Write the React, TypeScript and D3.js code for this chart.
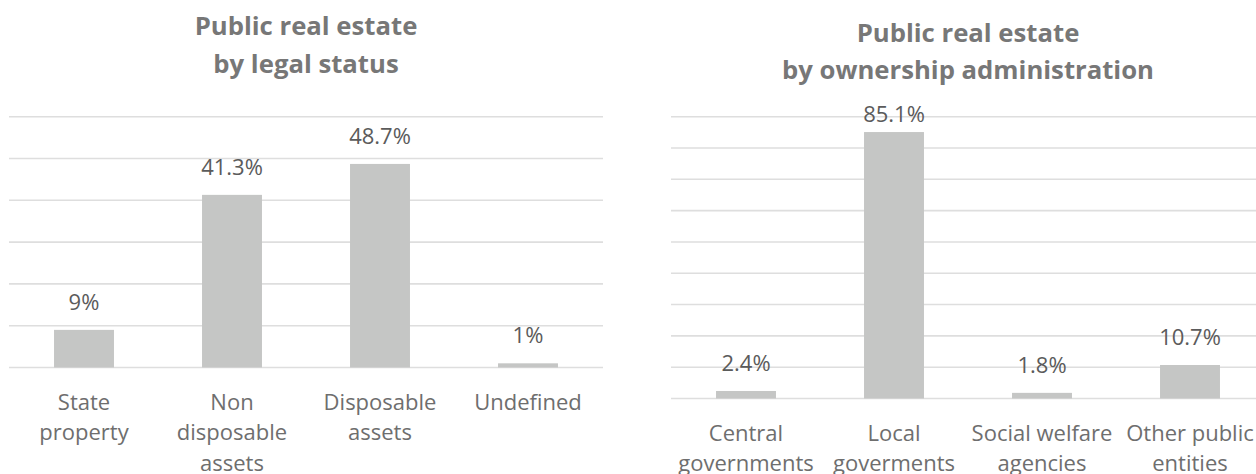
import React from "react";
import * as d3 from "d3";

const leftTitle = ["Public real estate", "by legal status"];
const leftCategories = ["State property", "Non disposable assets", "Disposable assets", "Undefined"];
const leftLabelLines = [["State", "property"], ["Non", "disposable", "assets"], ["Disposable", "assets"], ["Undefined"]];
const leftValues = [9, 41.3, 48.7, 1];
const leftValueLabels = ["9%", "41.3%", "48.7%", "1%"];
const leftTicks = [0, 10, 20, 30, 40, 50, 60];

const rightTitle = ["Public real estate", "by ownership administration"];
const rightCategories = ["Central governments", "Local goverments", "Social welfare agencies", "Other public entities"];
const rightLabelLines = [["Central", "governments"], ["Local", "goverments"], ["Social welfare", "agencies"], ["Other public", "entities"]];
const rightValues = [2.4, 85.1, 1.8, 10.7];
const rightValueLabels = ["2.4%", "85.1%", "1.8%", "10.7%"];
const rightTicks = [0, 10, 20, 30, 40, 50, 60, 70, 80, 90];

const FONT = "'Open Sans', 'Noto Sans', sans-serif";
const BAR = "#c5c6c5";
const GRID = "#dedede";

type PanelProps = {
  title: string[];
  categories: string[];
  lines: string[][];
  values: number[];
  labels: string[];
  ticks: number[];
  x0: number;
  x1: number;
  yTop: number;
  yBase: number;
  titleY: number;
  labelMinY: number;
};

function Panel(p: PanelProps) {
  const x = d3
    .scaleBand<string>()
    .domain(p.categories)
    .range([p.x0, p.x1])
    .paddingInner(0.595)
    .paddingOuter(0.2975);
  const y = d3
    .scaleLinear()
    .domain([0, d3.max(p.ticks) as number])
    .range([p.yBase, p.yTop]);
  const cx = (p.x0 + p.x1) / 2;
  return (
    <g>
      <text
        x={cx}
        y={p.titleY}
        textAnchor="middle"
        fontFamily={FONT}
        fontWeight={700}
        fontSize={25.7}
        fill="#777777"
      >
        {p.title.map((t, i) => (
          <tspan key={i} x={cx} dy={i === 0 ? 0 : 37.5}>
            {t}
          </tspan>
        ))}
      </text>
      {p.ticks.map((t) => (
        <line
          key={t}
          x1={p.x0 - 1}
          x2={p.x1 + 1}
          y1={y(t)}
          y2={y(t)}
          stroke={GRID}
          strokeWidth={1.6}
        />
      ))}
      {p.categories.map((c, i) => {
        const bx = x(c) as number;
        const top = y(p.values[i]);
        const mid = bx + x.bandwidth() / 2;
        return (
          <g key={c}>
            <rect x={bx} y={top} width={x.bandwidth()} height={p.yBase - top} fill={BAR} />
            <text
              x={mid}
              y={Math.max(top - 20, p.labelMinY)}
              textAnchor="middle"
              fontFamily={FONT}
              fontSize={22}
              fill="#5b5b5b"
            >
              {p.labels[i]}
            </text>
            <text
              x={mid}
              y={p.yBase + 42}
              textAnchor="middle"
              fontFamily={FONT}
              fontSize={22}
              fill="#6e6e6e"
            >
              {p.lines[i].map((l, j) => (
                <tspan key={j} x={mid} dy={j === 0 ? 0 : 30.5}>
                  {l}
                </tspan>
              ))}
            </text>
          </g>
        );
      })}
    </g>
  );
}

export default function App() {
  return (
    <svg
      width={1256}
      height={474}
      style={{ position: "absolute", left: 0, top: 0, background: "#fff" }}
    >
      <rect width={1256} height={474} fill="#fff" />
      <Panel
        title={leftTitle}
        categories={leftCategories}
        lines={leftLabelLines}
        values={leftValues}
        labels={leftValueLabels}
        ticks={leftTicks}
        x0={10}
        x1={602}
        yTop={116.7}
        yBase={367.5}
        titleY={35}
        labelMinY={0}
      />
      <Panel
        title={rightTitle}
        categories={rightCategories}
        lines={rightLabelLines}
        values={rightValues}
        labels={rightValueLabels}
        ticks={rightTicks}
        x0={672}
        x1={1264}
        yTop={116.7}
        yBase={398.5}
        titleY={41.5}
        labelMinY={122}
      />
    </svg>
  );
}
